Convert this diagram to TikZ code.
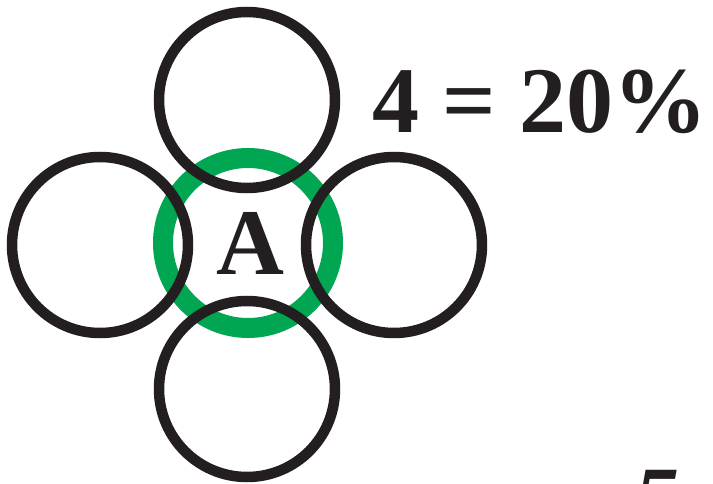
\documentclass[tikz,border=0pt]{standalone}
\usepackage{fontspec}
\setmainfont{Liberation Serif}
\usepackage{tikz}
\usetikzlibrary{positioning}
\definecolor{ink}{HTML}{231f20}
\definecolor{ringgreen}{HTML}{00a651}

\begin{document}
\begin{tikzpicture}[
  x=1pt,y=-1pt,
  ring/.style={circle,draw=ink,line width=10.5pt,minimum size=176pt,inner sep=0pt},
  core/.style={circle,draw=ringgreen,line width=20pt,minimum size=170pt,inner sep=0pt},
  big/.style={font=\fontsize{94}{94}\selectfont\bfseries,text=ink,inner sep=0pt}]
  \clip (0,0) rectangle (713,484);
  \node[core] (mid) at (248,243) {};
  \node[ring] (up) at (247,100) {};
  \node[ring] (left) at (100,245) {};
  \node[ring] (right) at (394,245) {};
  \node[ring] (down) at (247,389) {};
  \node[big,anchor=base] (letter) at (250,275) {A};
  \node[big,anchor=base west] (share) at (372,133) {4 = 20\%};
  \node[big,anchor=base west,font=\fontsize{92}{92}\selectfont\bfseries\itshape] (next) at (633,530) {5};
\end{tikzpicture}
\end{document}
